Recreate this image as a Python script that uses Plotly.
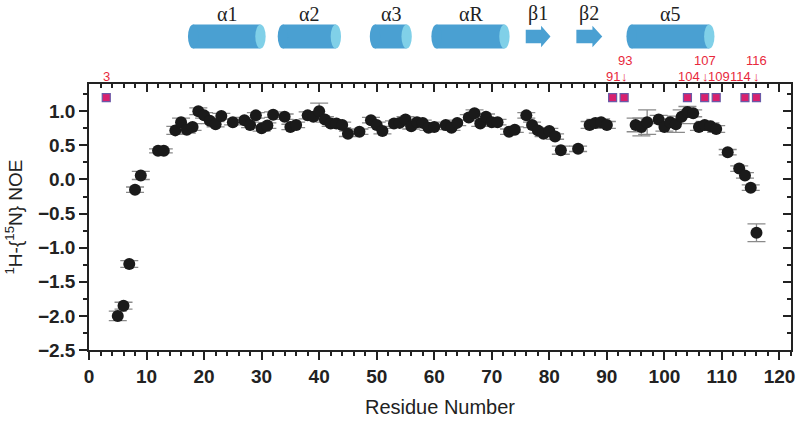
import plotly.graph_objects as go

# NOE values per residue
residue = [5, 6, 7, 8, 9, 12, 13, 15, 16, 17, 18, 19, 20, 21, 22, 23, 25, 27, 28, 29, 30, 31, 32, 34, 35, 36,
           38, 39, 40, 41, 42, 43, 44, 45, 47, 49, 50, 51, 53, 54, 55, 56, 57, 58, 59, 60, 62, 63, 64, 66, 67,
           68, 69, 70, 71, 73, 74, 76, 77, 78, 79, 80, 81, 82, 85, 87, 88, 89, 90, 95, 96, 97, 99, 100, 101,
           102, 103, 104, 105, 106, 107, 108, 109, 111, 113, 114, 115, 116]
noe = [-2.00, -1.85, -1.24, -0.15, 0.06, 0.42, 0.42, 0.72, 0.84, 0.73, 0.77, 1.00, 0.94, 0.86, 0.81, 0.93,
       0.84, 0.87, 0.80, 0.94, 0.75, 0.79, 0.95, 0.92, 0.77, 0.80, 0.94, 0.92, 1.00, 0.88, 0.82, 0.82, 0.80,
       0.67, 0.70, 0.87, 0.80, 0.71, 0.82, 0.83, 0.88, 0.78, 0.84, 0.83, 0.76, 0.77, 0.80, 0.76, 0.83, 0.91,
       0.97, 0.82, 0.92, 0.84, 0.84, 0.70, 0.73, 0.94, 0.80, 0.72, 0.67, 0.71, 0.63, 0.43, 0.45, 0.80, 0.83,
       0.84, 0.80, 0.80, 0.77, 0.84, 0.88, 0.77, 0.84, 0.81, 0.92, 0.99, 0.97, 0.77, 0.80, 0.78, 0.74, 0.40,
       0.16, 0.06, -0.12, -0.78]
noe_err = [0.07, 0.05, 0.05, 0.04, 0.06, 0.03, 0.03, 0.06, 0.06, 0.05, 0.05, 0.05, 0.04, 0.04, 0.04, 0.04,
           0.04, 0.04, 0.04, 0.04, 0.04, 0.04, 0.04, 0.04, 0.04, 0.04, 0.05, 0.05, 0.12, 0.04, 0.04, 0.04, 0.04,
           0.04, 0.04, 0.04, 0.04, 0.04, 0.04, 0.04, 0.04, 0.04, 0.04, 0.04, 0.04, 0.04, 0.04, 0.04, 0.04, 0.04,
           0.05, 0.04, 0.04, 0.04, 0.04, 0.04, 0.04, 0.04, 0.04, 0.04, 0.04, 0.04, 0.04, 0.06, 0.04, 0.05, 0.05,
           0.05, 0.05, 0.10, 0.13, 0.18, 0.06, 0.06, 0.05, 0.12, 0.10, 0.08, 0.05, 0.05, 0.05, 0.05, 0.05, 0.04,
           0.04, 0.04, 0.04, 0.13]

# flagged residues (squares on top)
flagged = [3, 91, 93, 104, 107, 109, 114, 116]
flag_level = 1.2

# labels for flagged residues: (text, x, row) row 0 = lower, 1 = upper
flag_labels = [("3", 3, 0), ("91", 91.1, 0), ("↓", 93, 0), ("93", 93.2, 1),
               ("104", 104.2, 0), ("↓", 107.1, 0), ("107", 107.1, 1), ("109", 109.4, 0),
               ("114", 113.2, 0), ("↓", 116, 0), ("116", 116, 1)]

# secondary structure
ss_names = ["α1", "α2", "α3", "αR", "β1", "β2", "α5"]
ss_kind = ["helix", "helix", "helix", "helix", "strand", "strand", "helix"]
ss_start = [17.2, 32.8, 48.8, 59.5, 75.9, 84.7, 93.4]
ss_end = [30.7, 43.8, 56.1, 73.1, 80.2, 89.2, 108.7]

RED = "#e8283c"
BLUE = "#4aa0d2"
LIGHT = "#80d0e8"

fig = go.Figure()

fig.add_trace(go.Scatter(
    x=residue, y=noe, mode="markers",
    marker=dict(color="#1a1a1a", size=12),
    error_y=dict(type="data", array=noe_err, color="#8a8a8a", thickness=1.3, width=9),
    showlegend=False))

fig.add_trace(go.Scatter(
    x=flagged, y=[flag_level] * len(flagged), mode="markers",
    marker=dict(symbol="square", size=8, color="#d8206e", line=dict(color="#6a5aa8", width=1.2)),
    showlegend=False))

# invisible trace for the mirrored inner-tick axes
fig.add_trace(go.Scatter(x=[0], y=[0], xaxis="x2", yaxis="y2", mode="markers",
                         marker=dict(opacity=0), showlegend=False, hoverinfo="skip"))

# secondary structure cartoon
y_lo, y_hi = 1.133, 1.224
rx = 0.9
for name, kind, s, e in zip(ss_names, ss_kind, ss_start, ss_end):
    if kind == "helix":
        fig.add_shape(type="rect", xref="x", yref="paper", x0=s + rx, x1=e - rx, y0=y_lo, y1=y_hi,
                      fillcolor=BLUE, line_width=0, layer="above")
        fig.add_shape(type="circle", xref="x", yref="paper", x0=s, x1=s + 2 * rx, y0=y_lo, y1=y_hi,
                      fillcolor=BLUE, line_width=0, layer="above")
        fig.add_shape(type="circle", xref="x", yref="paper", x0=e - 2 * rx, x1=e, y0=y_lo, y1=y_hi,
                      fillcolor=LIGHT, line_width=0, layer="above")
    else:
        head = (e - s) * 0.38
        ym = (y_lo + y_hi) / 2
        path = (f"M {s},{ym - 0.025} L {e - head},{ym - 0.025} L {e - head},{y_lo + 0.005} "
                f"L {e},{ym} L {e - head},{y_hi - 0.005} L {e - head},{ym + 0.025} L {s},{ym + 0.025} Z")
        fig.add_shape(type="path", xref="x", yref="paper", path=path,
                      fillcolor=BLUE, line_width=0, layer="above")
    fig.add_annotation(x=(s + e) / 2, y=1.265, xref="x", yref="paper", text=name, showarrow=False,
                       font=dict(size=20, color="#222", family="Liberation Serif"), yanchor="middle")

for t, xv, row in flag_labels:
    fig.add_annotation(x=xv, y=1.09 if row else 1.03, xref="x", yref="paper", text=t, showarrow=False,
                       font=dict(size=13, color=RED), yanchor="middle")

axis_common = dict(showline=True, linecolor="#222", linewidth=1.5, showgrid=False, zeroline=False,
                   tickcolor="#222", tickwidth=1.5, automargin=False)
yticks = [-2.5, -2.0, -1.5, -1.0, -0.5, 0.0, 0.5, 1.0]

fig.update_layout(
    width=800, height=422,
    margin=dict(l=89, r=9, t=84, b=72),
    plot_bgcolor="white", paper_bgcolor="white",
    font=dict(family="Liberation Sans, Arial", color="#222"),
    xaxis=dict(range=[0, 122], tickvals=list(range(0, 121, 10)), ticks="outside", ticklen=8,
               minor=dict(dtick=2, tick0=0, ticks="outside", ticklen=4, tickcolor="#222"),
               tickfont=dict(size=19, weight="bold"),
               title=dict(text="Residue Number", font=dict(size=20), standoff=14), **axis_common),
    yaxis=dict(range=[-2.5, 1.4], tickvals=yticks, tickformat=".1f",
               ticks="outside", ticklen=8,
               minor=dict(dtick=0.25, tick0=0, ticks="outside", ticklen=4, tickcolor="#222"),
               tickfont=dict(size=19, weight="bold"),
               title=dict(text="<sup>1</sup>H-{<sup>15</sup>N} NOE", font=dict(size=19), standoff=10),
               **axis_common),
    xaxis2=dict(overlaying="x", side="top", range=[0, 122], tickvals=list(range(0, 121, 10)),
                ticks="inside", ticklen=8, showticklabels=False,
                minor=dict(dtick=2, tick0=0, ticks="inside", ticklen=4, tickcolor="#222"),
                **axis_common),
    yaxis2=dict(overlaying="y", side="right", range=[-2.5, 1.4], tickvals=yticks,
                ticks="inside", ticklen=8, showticklabels=False,
                minor=dict(dtick=0.25, tick0=0, ticks="inside", ticklen=4, tickcolor="#222"),
                **axis_common),
)

# drop the default 8px body margin so the figure fills the window
fig.write_html("out.html", config={"displayModeBar": False},
               post_script="document.body.style.margin='0';")
